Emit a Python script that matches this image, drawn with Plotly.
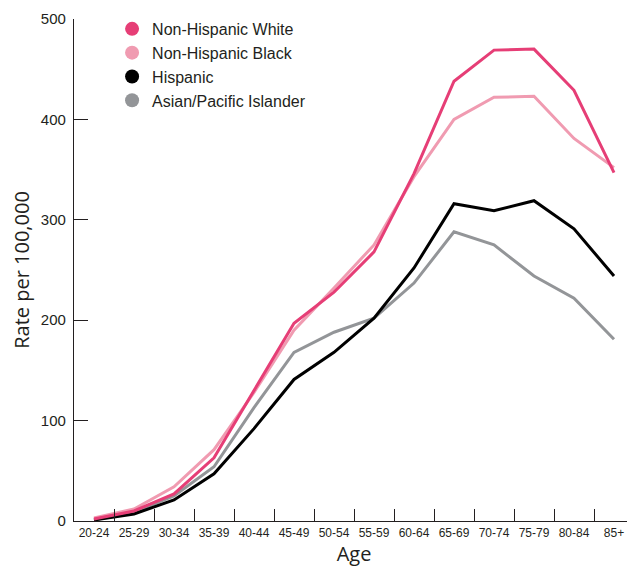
import plotly.graph_objects as go

ages = ["20-24", "25-29", "30-34", "35-39", "40-44", "45-49", "50-54",
        "55-59", "60-64", "65-69", "70-74", "75-79", "80-84", "85+"]

nh_white = [2, 10, 27, 63, 130, 197, 228, 268, 346, 438, 469, 470, 429, 347]
nh_black = [3, 12, 34, 71, 128, 190, 232, 275, 343, 400, 422, 423, 381, 352]
hispanic = [1, 7, 21, 47, 92, 141, 168, 202, 252, 316, 309, 319, 291, 244]
asian_pi = [1, 9, 25, 54, 113, 168, 188, 202, 237, 288, 275, 244, 222, 181]

series = [
    ("Non-Hispanic White", nh_white, "#E63E76"),
    ("Non-Hispanic Black", nh_black, "#F09BB1"),
    ("Hispanic", hispanic, "#000000"),
    ("Asian/Pacific Islander", asian_pi, "#939598"),
]

fig = go.Figure()
# draw so that White is on top
for name, vals, col in [series[3], series[2], series[1], series[0]]:
    fig.add_trace(go.Scatter(x=ages, y=vals, mode="lines", name=name,
                             line=dict(color=col, width=3), showlegend=False))
for name, vals, col in series:
    fig.add_trace(go.Scatter(x=[None], y=[None], mode="markers", name=name,
                             marker=dict(color=col, size=14)))

TXT = "#231F20"
# page body has an 8px default margin, so the figure is sized to the visible area
fig.update_layout(
    width=627, height=561,
    margin=dict(l=66, r=1, t=11, b=48),
    paper_bgcolor="white", plot_bgcolor="white",
    font=dict(family="Liberation Sans", color=TXT),
    legend=dict(x=0.068, y=1.014, xanchor="left", yanchor="top",
                font=dict(size=16, family="Liberation Sans", color=TXT),
                itemwidth=30, tracegroupgap=0, bgcolor="rgba(0,0,0,0)"),
    xaxis=dict(type="category", range=[-0.5, 13.5], showline=True,
               linecolor=TXT, linewidth=1.3, ticks="inside",
               tickson="boundaries", ticklen=12, tickcolor=TXT,
               tickangle=0, automargin=False,
               tickfont=dict(size=12, family="Liberation Sans", color=TXT),
               showgrid=False, zeroline=False,
               title=dict(text="Age", font=dict(size=20, family="Open Sans"), standoff=2)),
    yaxis=dict(range=[0, 500], showline=True, linecolor=TXT, linewidth=1.3,
               ticks="inside", ticklen=14, tickcolor=TXT,
               tickvals=[0, 100, 200, 300, 400, 500],
               tickfont=dict(size=15, family="Liberation Sans", color=TXT),
               ticklabelstandoff=4, automargin=False,
               showgrid=False, zeroline=False,
               title=dict(text="Rate per 100,000", font=dict(size=20, family="Open Sans"), standoff=11)),
)

fig.write_html("out.html")
